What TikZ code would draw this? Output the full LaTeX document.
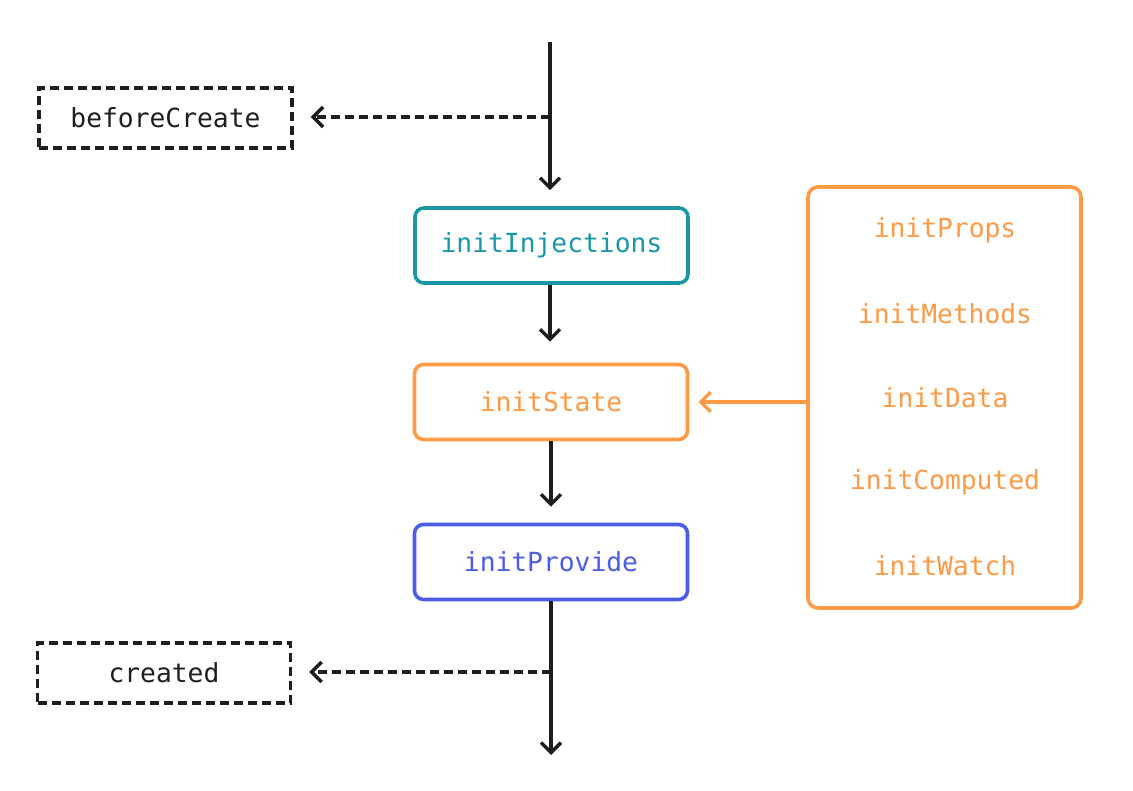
\documentclass[tikz,border=0pt]{standalone}
\usepackage{fontspec}
\setmonofont{DejaVu Sans Mono}
\usetikzlibrary{arrows.meta}
\definecolor{teal1}{HTML}{1997A7}
\definecolor{orange1}{HTML}{FC9A46}
\definecolor{blue1}{HTML}{4B5CE5}
\definecolor{ink}{HTML}{1E1E1E}
\tikzset{
  lbl/.style={font=\ttfamily\fontsize{26.3}{30}\selectfont},
  stepbox/.style={lbl, draw, line width=3.6pt, rounded corners=9pt, minimum width=273pt, minimum height=75pt, fill=white},
  hookbox/.style={lbl, draw=ink, text=ink, line width=3.4pt, dash pattern=on 9pt off 5pt, minimum width=253pt, minimum height=60pt},
  tip/.style={-{Straight Barb[length=10pt,width=20pt,line width=3.4pt]}},
  flow/.style={draw=ink, line width=3.4pt, tip},
  hook/.style={flow, dash pattern=on 9pt off 5pt},
}
\begin{document}
\begin{tikzpicture}[x=1pt,y=-1pt]
\useasboundingbox (0,0) rectangle (1133,791);
\fill[white] (0,0) rectangle (1133,791);

\node[hookbox] (bc) at (165.5,118) {beforeCreate};
\node[hookbox] (cr) at (164,673) {created};

\node[stepbox, draw=teal1, text=teal1] (inj) at (551.5,245.5) {initInjections};
\node[stepbox, draw=orange1, text=orange1] (st) at (551,402) {initState};
\node[stepbox, draw=blue1, text=blue1] (pr) at (551,562) {initProvide};

\node[draw=orange1, line width=3.6pt, rounded corners=10pt, minimum width=273pt, minimum height=421pt] (grp) at (944.5,397.5) {};
\node[lbl, text=orange1] (p1) at (945,230) {initProps};
\node[lbl, text=orange1] (p2) at (945,314) {initMethods};
\node[lbl, text=orange1] (p3) at (945,398) {initData};
\node[lbl, text=orange1] (p4) at (945,482) {initComputed};
\node[lbl, text=orange1] (p5) at (945,566) {initWatch};

\coordinate (top) at (550,42);
\coordinate (j1) at (550,117);
\coordinate (j2) at (551,672);
\coordinate (bot) at (551,755);

\draw[flow, shorten >=16pt] (top) -- (inj.north -| top);
\draw[flow, shorten >=21pt] (inj.south -| top) -- (st.north -| top);
\draw[flow, shorten >=16pt] (st.south) -- (pr.north);
\draw[flow] (pr.south) -- (bot);
\draw[hook, shorten >=17pt] (j1) -- (bc.east |- j1);
\draw[hook, shorten >=17pt] (j2) -- (cr.east |- j2);
\draw[flow, draw=orange1, shorten >=9pt] (grp.west |- st) -- (st.east);
\end{tikzpicture}
\end{document}
